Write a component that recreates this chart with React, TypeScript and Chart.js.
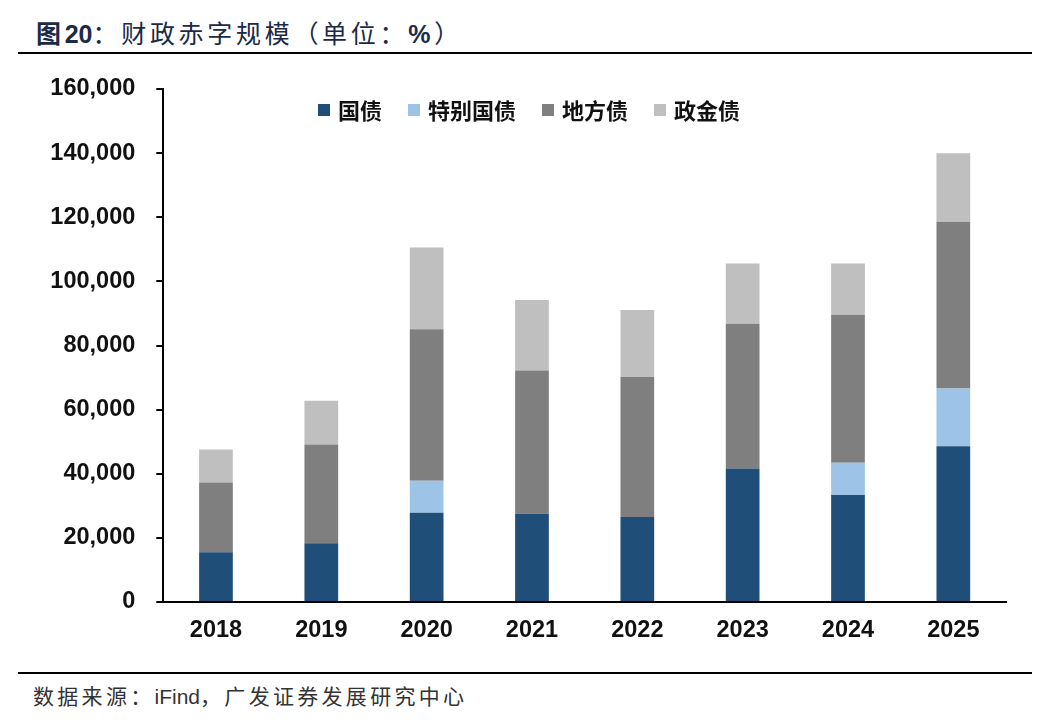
import React, { useEffect, useRef } from "react";
import { Chart, registerables } from "chart.js";

Chart.register(...registerables);

const categories = ["2018", "2019", "2020", "2021", "2022", "2023", "2024", "2025"];
const guozhai = [15500, 18300, 27800, 27500, 26500, 41600, 33400, 48600];
const tebieGuozhai = [0, 0, 10000, 0, 0, 0, 10000, 18000];
const difangzhai = [21800, 30800, 47300, 44700, 43700, 45200, 46200, 52000];
const zhengjinzhai = [10300, 13700, 25500, 22000, 20900, 18800, 16000, 21400];
const seriesNames = ["国债", "特别国债", "地方债", "政金债"];
const yTicks = [0, 20000, 40000, 60000, 80000, 100000, 120000, 140000, 160000];

const colors = ["#1F4E79", "#9DC3E6", "#7F7F7F", "#BFBFBF"];
const numFont = "'Liberation Sans', Arial, sans-serif";
const cjkFont = "'Noto Sans CJK SC', sans-serif";

const customLegend = {
  id: "customLegend",
  afterDraw(chart: any, _args: any, opts: any) {
    const ctx = chart.ctx;
    ctx.save();
    ctx.font = `bold ${opts.fontSize}px ${cjkFont}`;
    ctx.textBaseline = "middle";
    ctx.textAlign = "left";
    let x = opts.x;
    const cy = opts.y;
    chart.data.datasets.forEach((ds: any) => {
      ctx.fillStyle = ds.backgroundColor;
      ctx.fillRect(x, cy - opts.box / 2, opts.box, opts.box);
      x += opts.box + opts.boxGap;
      ctx.fillStyle = "#111";
      ctx.fillText(ds.label, x, cy + 1);
      x += ctx.measureText(ds.label).width + opts.itemGap;
    });
    ctx.restore();
  },
};

export default function App() {
  const canvasRef = useRef<HTMLCanvasElement | null>(null);

  useEffect(() => {
    if (!canvasRef.current) return;
    const values = [guozhai, tebieGuozhai, difangzhai, zhengjinzhai];
    const chart = new Chart(canvasRef.current, {
      type: "bar",
      data: {
        labels: categories,
        datasets: values.map((v, i) => ({
          label: seriesNames[i],
          data: v,
          backgroundColor: colors[i],
          borderWidth: 0,
          barPercentage: 0.32,
          categoryPercentage: 1,
        })),
      },
      plugins: [customLegend],
      options: {
        responsive: true,
        maintainAspectRatio: false,
        animation: false,
        layout: { padding: { left: 0, right: 30, top: 21, bottom: 0 } },
        plugins: {
          legend: { display: false },
          tooltip: { enabled: false },
          customLegend: { x: 310, y: 42, box: 12, boxGap: 8, itemGap: 26, fontSize: 22 },
        } as any,
        scales: {
          x: {
            stacked: true,
            grid: { display: false, drawTicks: false },
            border: { display: true, color: "#000", width: 2 },
            ticks: {
              color: "#111",
              padding: 14,
              font: { family: numFont, size: 23.5, weight: "bold" },
            },
            afterFit(scale: any) {
              scale.height = 58;
              scale.paddingLeft = 0;
              scale.paddingRight = 0;
            },
          },
          y: {
            stacked: true,
            min: 0,
            max: 160000,
            afterBuildTicks(scale: any) {
              scale.ticks = yTicks.map((v) => ({ value: v }));
            },
            grid: {
              drawOnChartArea: false,
              drawTicks: true,
              tickLength: 7,
              color: "#000",
              lineWidth: 2,
            },
            border: { display: true, color: "#000", width: 2 },
            ticks: {
              color: "#111",
              padding: 21,
              font: { family: numFont, size: 23.5, weight: "bold" },
              callback: (v: any) => Number(v).toLocaleString("en-US"),
            },
            afterFit(scale: any) {
              scale.width = 155.3;
              scale.paddingTop = 0;
              scale.paddingBottom = 0;
            },
          },
        },
      },
    });
    return () => chart.destroy();
  }, []);

  return (
    <div style={{ position: "relative", width: 1028, height: 708, background: "#fff" }}>
      <div
        style={{
          position: "absolute",
          left: 28,
          top: 9,
          lineHeight: "30px",
          fontSize: 25,
          letterSpacing: 3.7,
          color: "#1B2A47",
          fontFamily: cjkFont,
          whiteSpace: "nowrap",
        }}
      >
        <span style={{ fontWeight: 700 }}>图</span>
        <span style={{ fontWeight: 700, fontFamily: numFont, letterSpacing: 0 }}>20</span>
        <span>：财政赤字规模（单位：</span>
        <span style={{ fontWeight: 700, fontFamily: numFont }}>%</span>
        <span>）</span>
      </div>
      <div
        style={{
          position: "absolute",
          left: 10,
          top: 44.3,
          width: 1014,
          height: 0,
          borderTop: "2px solid #000",
        }}
      />
      <div style={{ position: "absolute", left: 0, top: 60, width: 1028, height: 592 }}>
        <canvas ref={canvasRef} />
      </div>
      <div
        style={{
          position: "absolute",
          left: 10,
          top: 663.7,
          width: 1014,
          height: 0,
          borderTop: "2px solid #000",
        }}
      />
      <div
        style={{
          position: "absolute",
          left: 25,
          top: 675,
          lineHeight: "24px",
          fontSize: 21,
          letterSpacing: 3.3,
          color: "#333",
          fontFamily: cjkFont,
          whiteSpace: "nowrap",
        }}
      >
        数据来源：<span style={{ fontFamily: numFont, letterSpacing: 0 }}>iFind</span>，广发证券发展研究中心
      </div>
    </div>
  );
}
